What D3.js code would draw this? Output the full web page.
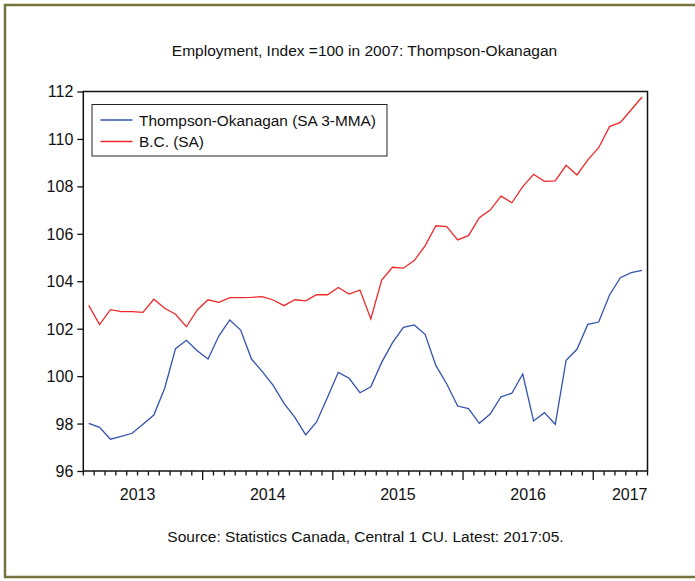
<!DOCTYPE html>
<html><head><meta charset="utf-8">
<script src="https://cdn.jsdelivr.net/npm/d3@7"></script>
<style>
html,body{margin:0;padding:0;background:#fff;}
svg text{font-family:"Liberation Sans",Arial,sans-serif;fill:#111;}
</style></head>
<body>
<script>
// ---- data ----
const startMonth = new Date(2013, 1, 1); // 2013:02
const endMonth = new Date(2017, 4, 1);   // 2017:05
const months = d3.timeMonth.range(startMonth, d3.timeMonth.offset(endMonth, 1));
const thompsonOkanagan = [
  98.01, 97.84, 97.34, 97.46, 97.59, 97.97, 98.36, 99.49, 101.16, 101.51, 101.07,
  100.72, 101.70, 102.37, 101.94, 100.72, 100.19, 99.61, 98.85, 98.26, 97.52, 98.07, 99.10,
  100.16, 99.91, 99.30, 99.55, 100.58, 101.41, 102.06, 102.16, 101.76, 100.44, 99.67, 98.74,
  98.63, 98.01, 98.40, 99.13, 99.28, 100.09, 98.11, 98.46, 97.97, 100.67, 101.13, 102.18,
  102.28, 103.42, 104.15, 104.36, 104.46
];
const bc = [
  102.98, 102.17, 102.80, 102.72, 102.72, 102.69, 103.24, 102.86, 102.61, 102.08, 102.79,
  103.22, 103.11, 103.31, 103.31, 103.32, 103.35, 103.21, 102.97, 103.22, 103.17, 103.43, 103.43,
  103.74, 103.46, 103.63, 102.41, 104.05, 104.59, 104.55, 104.87, 105.49, 106.34, 106.30, 105.74,
  105.92, 106.68, 107.00, 107.59, 107.31, 107.99, 108.51, 108.21, 108.23, 108.89, 108.48, 109.12,
  109.63, 110.52, 110.70, 111.23, 111.77
];
const yTicks = [96, 98, 100, 102, 104, 106, 108, 110, 112];
const yearLabels = ["2013", "2014", "2015", "2016", "2017"];
const seriesNames = ["Thompson-Okanagan (SA 3-MMA)", "B.C. (SA)"];
const seriesColors = ["#3352ad", "#f0282a"];
const title = "Employment, Index =100 in 2007: Thompson-Okanagan";
const source = "Source: Statistics Canada, Central 1 CU. Latest: 2017:05.";

// ---- layout ----
const W = 695, H = 581;
const L = 83.3, R = 647.5, T = 91.5, B = 471;

const svg = d3.select("body").append("svg").attr("width", W).attr("height", H);

// outer frame
svg.append("rect").attr("x", 5).attr("y", 5).attr("width", 700).attr("height", 572)
  .attr("fill", "none").attr("stroke", "#76733c").attr("stroke-width", 2.5);

const x = d3.scaleBand().domain(months.map(d => +d)).range([L, R]).paddingInner(0).paddingOuter(0);
const y = d3.scaleLinear().domain([96, 112]).range([B, T]);
const xc = d => x(+d) + x.bandwidth() / 2;

// title
svg.append("text").attr("x", 364.5).attr("y", 56).attr("text-anchor", "middle")
  .style("font-size", "15.5px").text(title);

// plot frame
svg.append("rect").attr("x", L).attr("y", T).attr("width", R - L).attr("height", B - T)
  .attr("fill", "none").attr("stroke", "#111").attr("stroke-width", 1.5);

// y axis
const yAxis = d3.axisLeft(y).tickValues(yTicks).tickSize(6).tickPadding(4).tickFormat(d3.format("d"));
const gy = svg.append("g").attr("transform", `translate(${L},0)`).call(yAxis);
gy.select(".domain").remove();
gy.selectAll("line").attr("stroke", "#111").attr("stroke-width", 1.3);
gy.selectAll("text").style("font-size", "16px").attr("fill", "#111").attr("dy", "0.34em");

// x axis ticks: every month boundary, longer at year starts
const boundaries = months.concat([d3.timeMonth.offset(endMonth, 1)]);
const xb = (d, i) => i < months.length ? x(+d) : R;
svg.append("g").selectAll("line").data(boundaries).join("line")
  .attr("x1", xb).attr("x2", xb)
  .attr("y1", B).attr("y2", d => d.getMonth() === 0 ? B + 9 : B + 4.5)
  .attr("stroke", "#111").attr("stroke-width", 1.3);

// year labels centred on the year span
yearLabels.forEach(yl => {
  const yr = +yl;
  const jan = new Date(yr, 0, 1);
  const idx = d3.timeMonth.count(startMonth, jan);
  const cx = L + (idx + 6) * x.bandwidth();
  let anchor = "middle", px = cx;
  if (cx + 18 > R) { anchor = "end"; px = R; }
  svg.append("text").attr("x", px).attr("y", 500).attr("text-anchor", anchor)
    .style("font-size", "16px").text(yl);
});

// lines
const line = d3.line().x((d, i) => xc(months[i])).y(d => y(d));
[thompsonOkanagan, bc].forEach((s, k) => {
  svg.append("path").datum(s).attr("d", line).attr("fill", "none")
    .attr("stroke", seriesColors[k]).attr("stroke-width", 1.3).attr("stroke-linejoin", "miter");
});

// legend
const lg = svg.append("g");
lg.append("rect").attr("x", 92).attr("y", 104.5).attr("width", 295).attr("height", 51.5)
  .attr("fill", "#fff").attr("stroke", "#222").attr("stroke-width", 1);
seriesNames.forEach((n, k) => {
  const ly = 120 + k * 21.5;
  lg.append("line").attr("x1", 100.5).attr("x2", 132.5).attr("y1", ly).attr("y2", ly)
    .attr("stroke", seriesColors[k]).attr("stroke-width", 1.3);
  lg.append("text").attr("x", 139).attr("y", ly + 5.5).style("font-size", "15.4px").text(n);
});

// source
svg.append("text").attr("x", 365.5).attr("y", 542).attr("text-anchor", "middle")
  .style("font-size", "15.5px").text(source);
</script>
</body></html>
